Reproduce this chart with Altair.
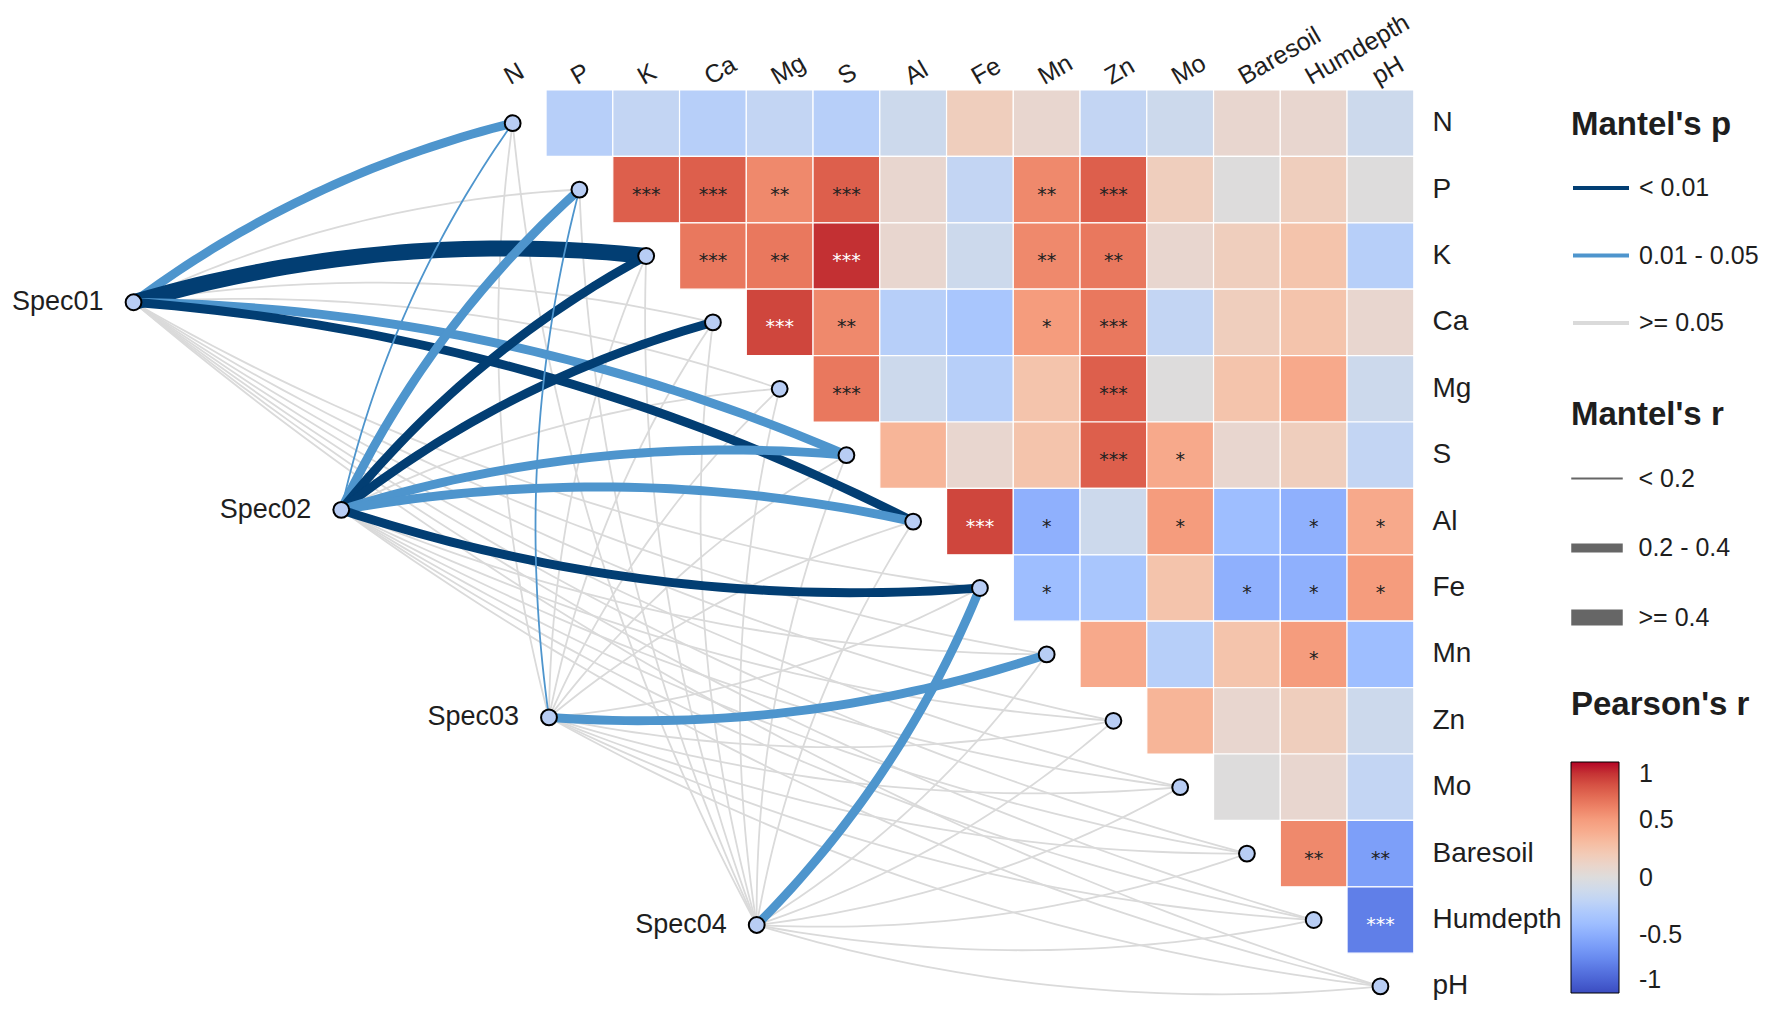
import altair as alt
import numpy as np
import pandas as pd

# ---------------- data ----------------
VARS = ["N", "P", "K", "Ca", "Mg", "S", "Al", "Fe", "Mn", "Zn", "Mo",
        "Baresoil", "Humdepth", "pH"]

# Pearson's r (upper triangle; row i holds columns i+1 .. end)
R_N = [-0.25, -0.18, -0.25, -0.18, -0.25, -0.12, 0.17, 0.08, -0.18, -0.12, 0.08, 0.08, -0.12]
R_P = [0.75, 0.75, 0.58, 0.75, 0.08, -0.18, 0.58, 0.75, 0.17, 0.0, 0.17, 0.0]
R_K = [0.65, 0.65, 0.91, 0.08, -0.12, 0.58, 0.65, 0.08, 0.17, 0.25, -0.25]
R_CA = [0.84, 0.58, -0.25, -0.33, 0.5, 0.65, -0.18, 0.17, 0.25, 0.08]
R_MG = [0.65, -0.12, -0.25, 0.25, 0.75, 0.0, 0.25, 0.42, -0.12]
R_S = [0.35, 0.08, 0.25, 0.75, 0.42, 0.08, 0.17, -0.18]
R_AL = [0.84, -0.48, -0.12, 0.5, -0.4, -0.48, 0.42]
R_FE = [-0.4, -0.33, 0.25, -0.48, -0.48, 0.5]
R_MN = [0.42, -0.25, 0.25, 0.5, -0.4]
R_ZN = [0.35, 0.08, 0.17, -0.12]
R_MO = [0.0, 0.08, -0.18]
R_BARESOIL = [0.58, -0.58]
R_HUMDEPTH = [-0.75]
R_ROWS = [R_N, R_P, R_K, R_CA, R_MG, R_S, R_AL, R_FE, R_MN, R_ZN, R_MO,
          R_BARESOIL, R_HUMDEPTH]

# significance marks, same layout
S_N = [""] * 13
S_P = ["***", "***", "**", "***", "", "", "**", "***", "", "", "", ""]
S_K = ["***", "**", "***", "", "", "**", "**", "", "", "", ""]
S_CA = ["***", "**", "", "", "*", "***", "", "", "", ""]
S_MG = ["***", "", "", "", "***", "", "", "", ""]
S_S = ["", "", "", "***", "*", "", "", ""]
S_AL = ["***", "*", "", "*", "", "*", "*"]
S_FE = ["*", "", "", "*", "*", "*"]
S_MN = ["", "", "", "*", ""]
S_ZN = ["", "", "", ""]
S_MO = ["", "", ""]
S_BARESOIL = ["**", "**"]
S_HUMDEPTH = ["***"]
S_ROWS = [S_N, S_P, S_K, S_CA, S_MG, S_S, S_AL, S_FE, S_MN, S_ZN, S_MO,
          S_BARESOIL, S_HUMDEPTH]

# Mantel test classes
SPECS = ["Spec01", "Spec02", "Spec03", "Spec04"]
P_LEVELS = ["< 0.01", "0.01 - 0.05", ">= 0.05"]
R_LEVELS = ["< 0.2", "0.2 - 0.4", ">= 0.4"]
A, B, C = P_LEVELS
LO, MID, HI = R_LEVELS
P_SPEC01 = [B, C, A, C, C, B, A, C, C, C, C, C, C, C]
R_SPEC01 = [MID, LO, HI, LO, LO, MID, MID, LO, LO, LO, LO, LO, LO, LO]
P_SPEC02 = [B, B, A, A, C, B, B, A, C, C, C, C, C, C]
R_SPEC02 = [LO, MID, MID, MID, LO, MID, MID, MID, LO, LO, LO, LO, LO, LO]
P_SPEC03 = [C, B, C, C, C, C, C, C, B, C, C, C, C, C]
R_SPEC03 = [LO, LO, LO, LO, LO, LO, LO, LO, MID, LO, LO, LO, LO, LO]
P_SPEC04 = [C, C, C, C, C, C, C, B, C, C, C, C, C, C]
R_SPEC04 = [LO, LO, LO, LO, LO, LO, LO, MID, LO, LO, LO, LO, LO, LO]
P_SPECS = [P_SPEC01, P_SPEC02, P_SPEC03, P_SPEC04]
R_SPECS = [R_SPEC01, R_SPEC02, R_SPEC03, R_SPEC04]

# ---------------- styles / layout ----------------
FONT = "Liberation Sans"
TXT = "#1e1e1e"
P_COLORS = ["#023e73", "#4e95cd", "#dadada"]
CW_DOMAIN = [-1, -0.9, -0.8, -0.7, -0.6, -0.5, -0.4, -0.3, -0.2, -0.1, 0,
             0.1, 0.2, 0.3, 0.4, 0.5, 0.6, 0.7, 0.8, 0.9, 1]
CW_RANGE = ["#3b4cc0", "#4961d2", "#5875e1", "#688aef", "#799cf8", "#8badfd",
            "#9ebeff", "#aec9fc", "#c0d4f5", "#cfdaea", "#dddcdc", "#e9d5cb",
            "#f2cbb7", "#f6bda2", "#f7ac8e", "#f59c7d", "#ee8468", "#e36c55",
            "#d65244", "#c53334", "#b40426"]

W, H = 1753, 994            # plot area (page minus 8px margins)
CELL_X, CELL_Y = 66.75, 66.4  # pixels per grid unit
GX0, GY0 = 471.3, 82.0      # pixel position of grid origin inside plot
XS = alt.Scale(domain=[-GX0 / CELL_X, (W - GX0) / CELL_X], nice=False, zero=False)
YS = alt.Scale(domain=[-GY0 / CELL_Y, (H - GY0) / CELL_Y], nice=False, zero=False,
               reverse=True)

SPEC_U0, SPEC_V0, SPEC_DU, SPEC_DV = -5.18, 3.197, 3.112, 3.126
CURV = 0.1

# ---------------- tables ----------------
cells = []
for i, (rrow, srow) in enumerate(zip(R_ROWS, S_ROWS)):
    for k, (r, s) in enumerate(zip(rrow, srow)):
        j = i + 1 + k
        cells.append(dict(row=VARS[i], col=VARS[j], x0=j, x1=j + 1, y0=i, y1=i + 1,
                          xc=j + 0.5, yc=i + 0.5, r=r, star=s,
                          light=(r > 0.8 or r < -0.7)))
cells = pd.DataFrame(cells)

diag = pd.DataFrame(dict(var=VARS, u=[i + 0.5 for i in range(len(VARS))],
                         v=[i + 0.5 for i in range(len(VARS))]))
spec_nodes = pd.DataFrame(dict(spec=SPECS,
                               u=[SPEC_U0 + k * SPEC_DU for k in range(len(SPECS))],
                               v=[SPEC_V0 + k * SPEC_DV for k in range(len(SPECS))]))

edge_rows = []
for k, spec in enumerate(SPECS):
    sx, sy = spec_nodes.u[k], spec_nodes.v[k]
    for j, var in enumerate(VARS):
        tx, ty = diag.u[j], diag.v[j]
        dx, dy = tx - sx, ty - sy
        L = float(np.hypot(dx, dy))
        sgn = 1.0 if j < len(VARS) / 2 else -1.0
        px, py = sgn * dy / L, -sgn * dx / L
        cx = (sx + tx) / 2 + px * CURV * L
        cy = (sy + ty) / 2 + py * CURV * L
        for n, t in enumerate(np.linspace(0, 1, 41)):
            edge_rows.append(dict(
                edge=f"e{k:02d}_{j:02d}", t=n,
                x=(1 - t) ** 2 * sx + 2 * t * (1 - t) * cx + t ** 2 * tx,
                y=(1 - t) ** 2 * sy + 2 * t * (1 - t) * cy + t ** 2 * ty,
                p=P_SPECS[k][j], rc=R_SPECS[k][j]))
edges = pd.DataFrame(edge_rows)
gray_edges = edges[edges.p == C]
col_edges = edges[edges.p != C]

# ---------------- layers ----------------
def X(f):
    return alt.X(f, type="quantitative", scale=XS, axis=None)


def Y(f):
    return alt.Y(f, type="quantitative", scale=YS, axis=None)


LEGX = 1571 - 8

heat = alt.Chart(cells).mark_rect(stroke="white", strokeWidth=1.2).encode(
    x=X("x0"), x2="x1:Q", y=Y("y0"), y2="y1:Q",
    fill=alt.Fill("r:Q", scale=alt.Scale(domain=CW_DOMAIN, range=CW_RANGE),
                  legend=alt.Legend(title="Pearson's r", orient="none",
                                    legendX=LEGX, legendY=681, direction="vertical",
                                    gradientLength=231, gradientThickness=48,
                                    gradientStrokeColor="black", gradientStrokeWidth=1,
                                    values=[1, 0.5, 0, -0.5, -1], labelOffset=20,
                                    labelExpr="datum.value + ''",
                                    labelBaseline="middle", labelFontSize=25,
                                    titlePadding=40)),
)

stars = alt.Chart(cells).mark_text(font="DejaVu Sans", fontSize=19, dy=5,
                                   baseline="middle").encode(
    x=X("xc"), y=Y("yc"), text="star:N",
    color=alt.condition("datum.light", alt.value("white"), alt.value("#222222")),
)

stroke_enc = alt.Stroke("p:N", scale=alt.Scale(domain=P_LEVELS, range=P_COLORS),
                        legend=alt.Legend(title="Mantel's p", orient="none",
                                          legendX=LEGX, legendY=101,
                                          symbolType="stroke", symbolSize=3136,
                                          symbolStrokeWidth=4, labelOffset=8,
                                          rowPadding=24.5, titlePadding=16))
width_enc = alt.StrokeWidth("rc:N",
                            scale=alt.Scale(type="point", domain=R_LEVELS, range=[1.8, 16]),
                            legend=alt.Legend(title="Mantel's r", orient="none",
                                              legendX=LEGX, legendY=391,
                                              symbolType="stroke", symbolSize=2652,
                                              symbolStrokeColor="#666666",
                                              symbolOffset=-8, gridAlign="all",
                                              labelOffset=7.5, rowPadding=0,
                                              titlePadding=19.5))

lines_gray = alt.Chart(gray_edges).mark_line().encode(
    x=X("x"), y=Y("y"), detail="edge:N", order=alt.Order("t:Q"),
    stroke=stroke_enc, strokeWidth=width_enc)
lines_col = alt.Chart(col_edges).mark_line().encode(
    x=X("x"), y=Y("y"), detail="edge:N", order=alt.Order("t:Q"),
    stroke=stroke_enc, strokeWidth=width_enc)

NODE = dict(size=250, fill="#b8cdf4", stroke="black", strokeWidth=2, opacity=1)
diag_pts = alt.Chart(diag).mark_circle(**NODE).encode(x=X("u"), y=Y("v"))
spec_pts = alt.Chart(spec_nodes).mark_circle(**NODE).encode(x=X("u"), y=Y("v"))

spec_txt = alt.Chart(spec_nodes).mark_text(font=FONT, fontSize=27, color=TXT,
                                           align="right", baseline="middle",
                                           dx=-30).encode(
    x=X("u"), y=Y("v"), text="spec:N")

col_lab = pd.DataFrame(dict(var=VARS, u=[i + 0.5 for i in range(len(VARS))],
                            v=[-0.005] * len(VARS)))
col_txt = alt.Chart(col_lab).mark_text(font=FONT, fontSize=25, color=TXT,
                                       align="left", baseline="bottom",
                                       angle=330).encode(
    x=X("u"), y=Y("v"), text="var:N")

row_lab = pd.DataFrame(dict(var=VARS, u=[14.28] * len(VARS),
                            v=[i + 0.5 for i in range(len(VARS))]))
row_txt = alt.Chart(row_lab).mark_text(font=FONT, fontSize=28, color=TXT,
                                       align="left", baseline="middle").encode(
    x=X("u"), y=Y("v"), text="var:N")

chart = alt.layer(
    heat, stars, lines_gray, lines_col, diag_pts, spec_pts, spec_txt, col_txt, row_txt
).properties(
    width=W, height=H, padding=0, autosize=alt.AutoSizeParams(type="none")
).configure_view(strokeWidth=0).configure_legend(
    titleFont=FONT, titleFontSize=33, titleFontWeight="bold", titleColor=TXT,
    labelFont=FONT, labelFontSize=25, labelColor=TXT, padding=0,
)

chart.save("out.html", embed_options={"renderer": "svg", "actions": False})
